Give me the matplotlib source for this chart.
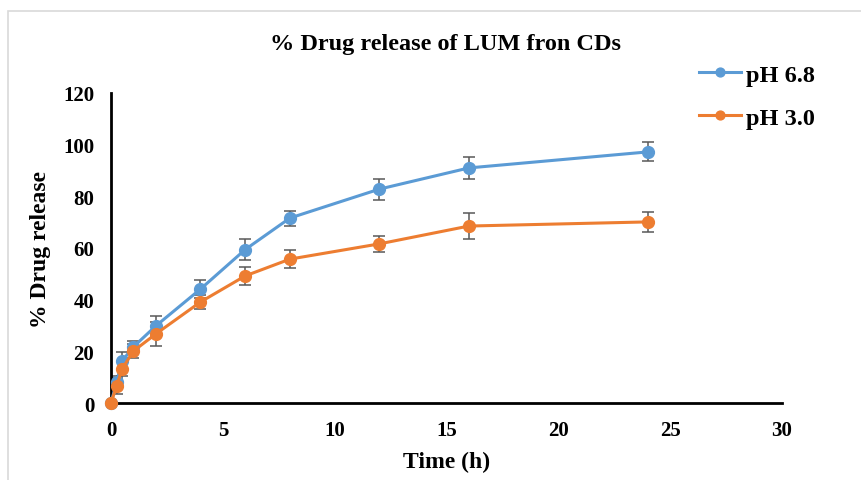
import matplotlib
matplotlib.use("Agg")
import matplotlib.pyplot as plt
from matplotlib.patches import Rectangle

time_h = [0, 0.25, 0.5, 1, 2, 4, 6, 8, 12, 16, 24]
ph68 = [0, 8.1, 16.3, 21.7, 29.8, 44.1, 59.4, 71.6, 82.8, 91.0, 97.2]
ph68_err = [0, 2.3, 3.5, 2.3, 3.9, 3.6, 3.9, 2.9, 4.1, 4.1, 3.7]
ph30 = [0, 6.6, 13.2, 20.1, 26.7, 39.1, 49.2, 55.7, 61.6, 68.5, 70.1]
ph30_err = [0, 3.1, 2.6, 2.7, 4.6, 2.7, 3.5, 3.5, 3.1, 5.0, 3.9]
labels = ["pH 6.8", "pH 3.0"]
colors = ["#5B9BD5", "#ED7D31"]

plt.rcParams['font.family'] = ['Liberation Serif', 'DejaVu Serif']
plt.rcParams['font.weight'] = 'bold'

fig = plt.figure(figsize=(8.61, 4.81), dpi=100)
fig.patches.append(Rectangle((8/861, -0.1), 1.2, 1 - 12/481 + 0.1, transform=fig.transFigure,
                             fill=False, edgecolor='#D9D9D9', linewidth=1.2))
ax = fig.add_axes([111/861, 1 - 404/481, (782 - 111)/861, (404 - 94)/481])

handles = []
for vals, errs, c, lab in [(ph68, ph68_err, colors[0], labels[0]), (ph30, ph30_err, colors[1], labels[1])]:
    ax.errorbar(time_h, vals, yerr=errs, fmt='none', ecolor='#595959', elinewidth=1.1,
                capsize=4, capthick=1.1, zorder=2)
    h, = ax.plot(time_h, vals, '-o', color=c, lw=2.2, markersize=8.5, label=lab, zorder=3,
                 clip_on=False)
    handles.append(h)

ax.set_xlim(0, 30)
ax.set_ylim(0, 120)
ax.set_xticks(range(0, 31, 5))
ax.set_yticks(range(0, 121, 20))
for s in ['top', 'right']:
    ax.spines[s].set_visible(False)
for s in ['left', 'bottom']:
    ax.spines[s].set_linewidth(2)
    ax.spines[s].set_color('black')
ax.tick_params(axis='y', length=0, labelsize=15, pad=12)
ax.tick_params(axis='x', length=0, labelsize=15, pad=12)
for t in ax.get_xticklabels() + ax.get_yticklabels():
    t.set_fontweight('bold')
ax.set_xlabel('Time (h)', fontsize=17, fontweight='bold')
ax.set_ylabel('% Drug release', fontsize=17, fontweight='bold')
ax.yaxis.set_label_coords(-0.089, 0.5)
ax.xaxis.set_label_coords(0.5, -0.155)

fig.text(445/861, 1 - 45/481, '% Drug release of LUM fron CDs', ha='center', va='center',
         fontsize=17.5, fontweight='bold')

leg = fig.legend(handles=handles, labels=labels, loc='upper left',
                 bbox_to_anchor=(677/861, 1 - 43/481), frameon=False,
                 prop={'weight': 'bold', 'size': 17.5}, handlelength=1.75, handletextpad=0.2,
                 labelspacing=0.85, markerscale=0.75)

fig.savefig('out.png', dpi=100)
